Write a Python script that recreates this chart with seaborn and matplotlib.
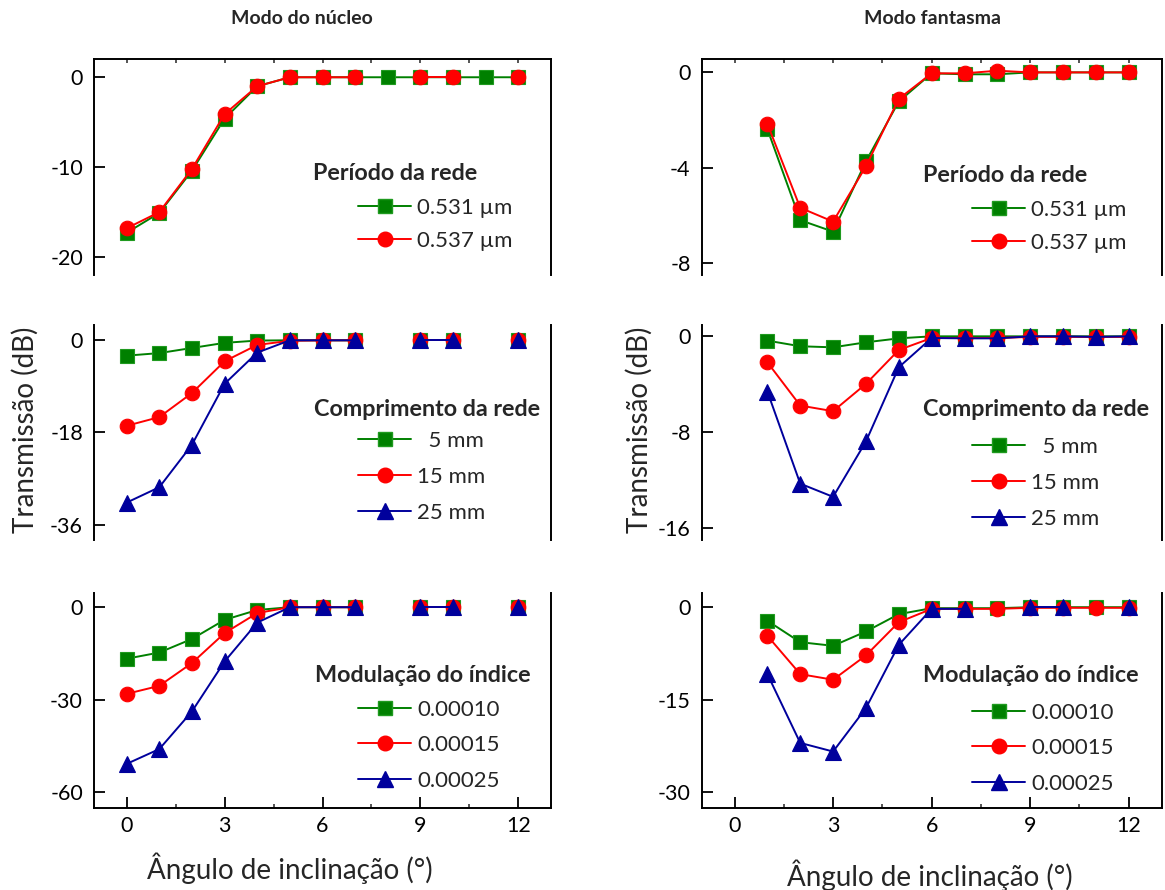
import numpy as np
import pandas as pd
import matplotlib
matplotlib.use("Agg")
import matplotlib.pyplot as plt
from matplotlib.lines import Line2D
from matplotlib.ticker import MultipleLocator
import seaborn as sns

sns.set_theme(style="white")
plt.rcParams["font.family"] = ["Lato", "DejaVu Sans"]
plt.rcParams["axes.unicode_minus"] = False

nan = np.nan

# Tilt angles (degrees)
angle_core = list(range(0, 13))
angle_ghost = list(range(1, 13))

# Core mode: grating period
core_p531 = [-17.3, -15.1, -10.4, -4.6, -1.0, 0, 0, 0, 0, 0, 0, 0, 0]
core_p537 = [-16.8, -15.0, -10.2, -4.1, -1.0, 0, 0, 0, nan, 0, 0, nan, 0]
# Core mode: grating length
core_l5 = [-3.0, -2.5, -1.5, -0.5, -0.05, 0, 0, 0, nan, 0, 0, nan, 0]
core_l15 = [-16.7, -15.0, -10.3, -4.1, -0.9, -0.1, 0, 0, nan, 0, 0, nan, 0]
core_l25 = [-31.7, -28.7, -20.4, -8.5, -2.4, 0, 0, 0, nan, 0, 0, nan, 0]
# Core mode: index modulation
core_m10 = [-16.7, -14.7, -10.3, -4.1, -0.9, 0, 0, 0, nan, 0, 0, nan, 0]
core_m15 = [-28.1, -25.5, -18.1, -8.4, -1.9, 0, 0, 0, nan, 0, 0, nan, 0]
core_m25 = [-50.8, -46.0, -33.8, -17.6, -5.0, 0, 0, 0, nan, 0, 0, nan, 0]

# Ghost mode: grating period
ghost_p531 = [-2.38, -6.2, -6.68, -3.73, -1.22, -0.04, -0.08, -0.08, 0, 0, 0, 0]
ghost_p537 = [-2.16, -5.68, -6.26, -3.94, -1.11, -0.04, -0.04, 0.07, 0, 0, 0, 0]
# Ghost mode: grating length
ghost_l5 = [-0.36, -0.83, -0.92, -0.5, -0.17, 0, 0, 0, 0, 0, 0, 0]
ghost_l15 = [-2.17, -5.78, -6.25, -3.97, -1.14, -0.14, -0.14, -0.14, -0.05, -0.05, -0.05, -0.05]
ghost_l25 = [-4.61, -12.3, -13.4, -8.78, -2.58, -0.14, -0.17, -0.17, 0, 0, -0.05, 0]
# Ghost mode: index modulation
ghost_m10 = [-2.2, -5.67, -6.26, -3.94, -1.13, -0.16, -0.16, -0.16, 0, 0, 0, 0]
ghost_m15 = [-4.64, -10.85, -11.76, -7.82, -2.43, -0.27, -0.27, -0.27, -0.1, -0.1, -0.1, -0.1]
ghost_m25 = [-10.85, -22.0, -23.4, -16.35, -6.1, -0.27, -0.27, nan, 0, 0, nan, 0]

period_labels = ["0.531 \u00b5m", "0.537 \u00b5m"]
length_labels = ["  5 mm", "15 mm", "25 mm"]
modulation_labels = ["0.00010", "0.00015", "0.00025"]

legend_titles = ["Período da rede", "Comprimento da rede", "Modulação do índice"]
col_titles = ["Modo do núcleo", "Modo fantasma"]

styles = [
    dict(color="#008000", marker="s", ms=9.5, mec="#1f9a1f"),
    dict(color="#ff0000", marker="o", ms=10.5, mec="#ff0000"),
    dict(color="#00009c", marker="^", ms=11.5, mec="#00009c"),
]

panels = [
    # (col, row, x, series, labels, yticks, ylim)
    (0, 0, angle_core, [core_p531, core_p537], period_labels, [0, -10, -20], (-22, 2)),
    (0, 1, angle_core, [core_l5, core_l15, core_l25], length_labels, [0, -18, -36], (-39, 3)),
    (0, 2, angle_core, [core_m10, core_m15, core_m25], modulation_labels, [0, -30, -60], (-65, 4.6)),
    (1, 0, angle_ghost, [ghost_p531, ghost_p537], period_labels, [0, -4, -8], (-8.5, 0.55)),
    (1, 1, angle_ghost, [ghost_l5, ghost_l15, ghost_l25], length_labels, [0, -8, -16], (-17, 0.95)),
    (1, 2, angle_ghost, [ghost_m10, ghost_m15, ghost_m25], modulation_labels, [0, -15, -30], (-32.5, 2.3)),
]

W, H = 1165, 890
fig = plt.figure(figsize=(W / 100, H / 100), dpi=100)

col_x = [(0.0807, 0.3923), (0.6023, 0.3948)]
row_y = [(0.691, 0.2424), (0.3933, 0.2416), (0.0925, 0.2412)]

# Legend placement in pixels from the top-left corner:
# (title left, title centre y, handle left, first row centre y)
legend_pos = {
    (0, 0): (313, 174, 358, 208), (0, 1): (314, 409, 358, 441), (0, 2): (315, 676, 358, 710),
    (1, 0): (923, 175, 972, 210), (1, 1): (923, 409, 972, 447), (1, 2): (923, 676, 972, 713),
}
row_spacing = [0.6, 0.72, 0.7]
LEG_FS = 16


def segments(values):
    """Split a series into contiguous runs, so missing points break the line."""
    seg, ids = 0, []
    prev_nan = False
    for v in values:
        if np.isnan(v):
            prev_nan = True
            ids.append(-1)
        else:
            if prev_nan:
                seg += 1
            prev_nan = False
            ids.append(seg)
    return ids


for col, row, xs, series, labels, yticks, ylim in panels:
    x0, w = col_x[col]
    y0, h = row_y[row]
    ax = fig.add_axes([x0, y0, w, h])
    handles = []
    for vals, lab, st in zip(series, labels, styles):
        df = pd.DataFrame({"angle": xs, "dB": vals, "seg": segments(vals)})
        df = df[df["seg"] >= 0]
        sns.lineplot(data=df, x="angle", y="dB", units="seg", estimator=None,
                     color=st["color"], marker=st["marker"], markersize=st["ms"],
                     markeredgecolor=st["mec"], markeredgewidth=0.8,
                     linewidth=1.4, ax=ax, legend=False, sort=False)
        handles.append(Line2D([], [], color=st["color"], marker=st["marker"],
                              markersize=st["ms"], markeredgecolor=st["mec"],
                              linewidth=1.4, label=lab))

    ax.set_xlim(-1, 13)
    ax.set_ylim(*ylim)
    ax.set_yticks(yticks)
    ax.set_yticklabels([str(t) for t in yticks])
    ax.set_xlabel("")
    ax.set_ylabel("")

    for side in ["left", "right", "top", "bottom"]:
        ax.spines[side].set_color("black")
        ax.spines[side].set_linewidth(1.4)
    ax.spines["top"].set_visible(row == 0)
    ax.spines["bottom"].set_visible(row == 2)

    ax.tick_params(axis="y", direction="in", length=8, width=1.3, left=True,
                   right=False, pad=8, colors="black", labelsize=15.5)
    ax.xaxis.set_major_locator(MultipleLocator(3))
    ax.xaxis.set_minor_locator(MultipleLocator(1.5))
    if row == 2:
        ax.tick_params(axis="x", which="major", direction="in", length=8, width=1.3,
                       bottom=True, top=False, labelsize=15.5, pad=6, colors="black")
        ax.tick_params(axis="x", which="minor", direction="in", length=3, width=1.1,
                       bottom=True, top=False)
    elif row == 0:
        ax.tick_params(axis="x", which="both", direction="in", length=3, width=1.1,
                       bottom=False, top=True, labelbottom=False)
    else:
        ax.tick_params(axis="x", which="both", bottom=False, top=False,
                       labelbottom=False)

    tx, ty, hx, hy = legend_pos[(col, row)]
    row_h = LEG_FS * 1.3
    ax.legend(handles=handles, loc="upper left",
              bbox_to_anchor=(hx / W, 1 - (hy - row_h / 2) / H),
              bbox_transform=fig.transFigure,
              frameon=False, fontsize=LEG_FS, handlelength=2.4,
              handletextpad=0.25, labelspacing=row_spacing[row], borderaxespad=0,
              borderpad=0)
    fig.text(tx / W, 1 - ty / H, legend_titles[row], ha="left", va="center",
             fontsize=16.8, fontweight="bold")

for i, title in enumerate(col_titles):
    cx = [0.259, 0.80][i]
    fig.text(cx, 0.979, title, ha="center", va="center", fontsize=14,
             fontweight="bold")

for cx, cy in [(0.0215, 0.517), (0.549, 0.517)]:
    fig.text(cx, cy, "Transmissão (dB)", rotation=90, ha="center", va="center",
             fontsize=20)

for cx, cy in [(0.249, 0.025), (0.798, 0.017)]:
    fig.text(cx, cy, "Ângulo de inclinação (°)", ha="center", va="center",
             fontsize=20)

fig.savefig("out.png", dpi=100, facecolor="white")
